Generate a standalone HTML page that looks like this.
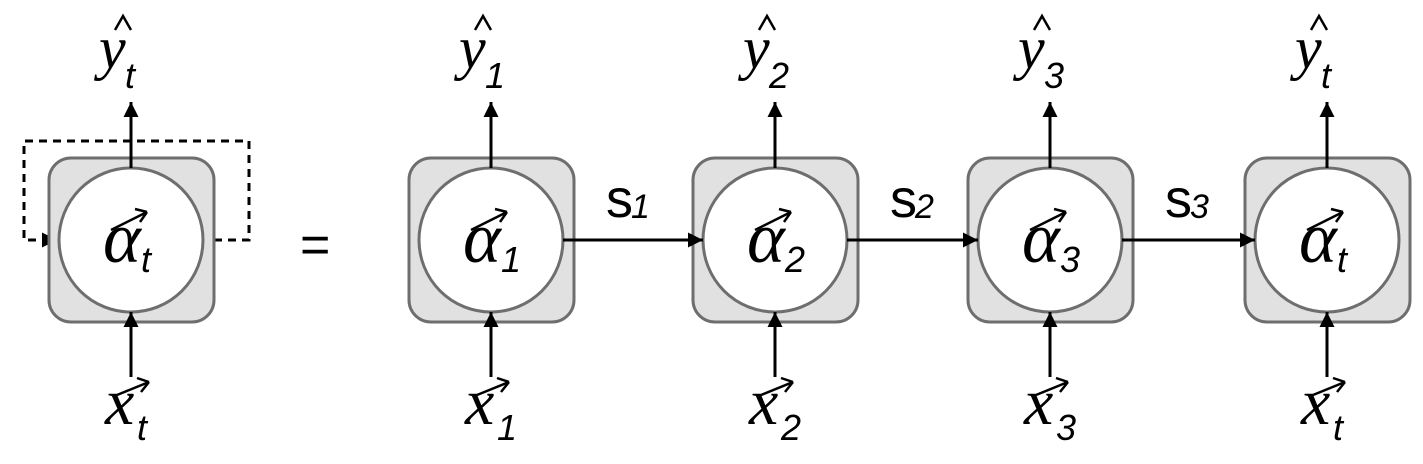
<!DOCTYPE html>
<html><head><meta charset="utf-8"><style>
html,body{margin:0;padding:0;background:#fff;}
svg{display:block;}
</style></head><body>
<svg id="d" width="1423" height="464" viewBox="0 0 1423 464">
<defs><marker id="ah" viewBox="0 0 10 10" refX="10" refY="5" markerWidth="5" markerHeight="5" orient="auto"><path d="M0,0L10,5L0,10z" fill="#000"/></marker>
<marker id="ah2" viewBox="0 0 10 10" refX="9" refY="5" markerWidth="4" markerHeight="4" orient="auto"><path d="M0,0L10,5L0,10" fill="none" stroke="#000" stroke-width="2.5"/></marker></defs>
<g>
<path d="M214,240 H249 V141 H24 V240 H57" fill="none" stroke="#000" stroke-width="3" stroke-dasharray="8,6" marker-end="url(#ah)"/>
</g>
<text x="300" y="262" font-family="Liberation Sans,sans-serif" font-size="52">=</text>
<g id="cells"></g>
<g id="links"></g>
</svg>
<script>
const cellX=[131,491,775,1050,1327];
const subs=['t','1','2','3','t'];
const linkLabels=['1','2','3'];
const svg=document.getElementById('cells');
const links=document.getElementById('links');
const NS='http://www.w3.org/2000/svg';
const SERIF='Liberation Serif, serif', SANS='Liberation Sans, sans-serif';
function mk(t,a,p){const e=document.createElementNS(NS,t);for(const k in a)e.setAttribute(k,a[k]);p.appendChild(e);return e;}
function txt(p,x,y,s,fam,size,ital){const e=mk('text',{x:x,y:y,'font-family':fam,'font-size':size,'font-style':ital?'italic':'normal'},p);e.textContent=s;return e;}
cellX.forEach((cx,i)=>{
 const g=mk('g',{},svg);
 
 
 const b=mk('rect',{x:cx-82,y:158,width:165,height:164,rx:22,fill:'#e1e1e1',stroke:'#6e6e6e','stroke-width':3},g);
 
 
 const c=mk('ellipse',{cx:cx,cy:240,rx:72,ry:72,fill:'#fff',stroke:'#6e6e6e','stroke-width':3},g);
 
 
 const t=txt(g,cx-28,262,'α',SERIF,72,true);
 
 
 mk('path',{d:`M${cx-20},230 L${cx+16},212 M${cx+16},212 L${cx+4},209 M${cx+16},212 L${cx+9},222`,stroke:'#000','stroke-width':2.5,fill:'none'},g);
 txt(g,cx+10,272,subs[i],SANS,36,true);
 mk('line',{x1:cx,y1:168,x2:cx,y2:102,stroke:'#000','stroke-width':3,'marker-end':'url(#ah)'},g);
 mk('line',{x1:cx,y1:377,x2:cx,y2:312,stroke:'#000','stroke-width':3,'marker-end':'url(#ah)'},g);
 const y=txt(g,cx-32,68,'y',SERIF,60,true);
 
 
 mk('path',{d:`M${cx-16},30 L${cx-8},16 L${cx},30`,stroke:'#000','stroke-width':2.5,fill:'none'},g);
 txt(g,cx-6,88,subs[i],SANS,36,true);
 const x=txt(g,cx-26,424,'x',SERIF,66,true);
 
 
 mk('path',{d:`M${cx-14},395 L${cx+18},382 M${cx+18},382 L${cx+6},378 M${cx+18},382 L${cx+10},392`,stroke:'#000','stroke-width':2.5,fill:'none'},g);
 txt(g,cx+6,440,subs[i],SANS,36,true);
});
linkLabels.forEach((l,i)=>{
 const x1=cellX[i+1]+72, x2=cellX[i+2]-72;
 const g=mk('g',{},links);
 
 
 mk('line',{x1:x1,y1:240,x2:x2,y2:240,stroke:'#000','stroke-width':3,'marker-end':'url(#ah)'},g);
 txt(g,x1+43,217,'s',SANS,54,false);
 txt(g,x1+68,218,l,SANS,34,true);
});
</script>
</body></html>
